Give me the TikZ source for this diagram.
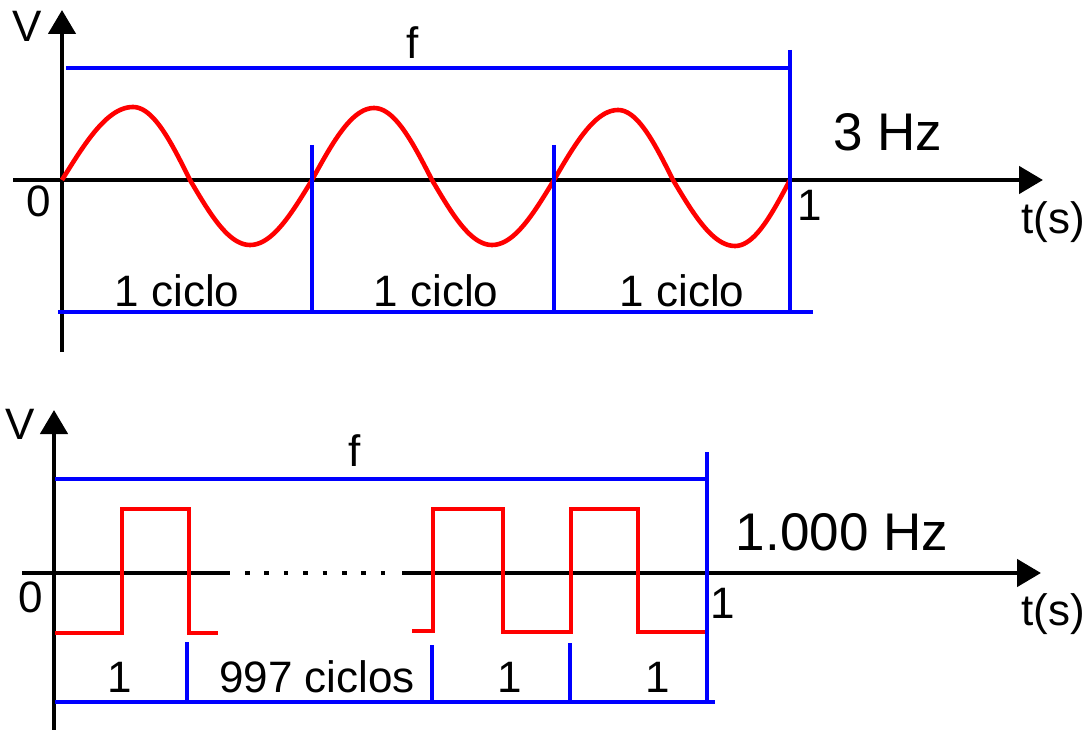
\documentclass[tikz,border=0pt]{standalone}
\usepackage{fontspec}
\setmainfont{Liberation Sans}
\usetikzlibrary{arrows.meta}
\begin{document}
\begin{tikzpicture}[x=1pt,y=-1pt,
  ax/.style={line width=4.6pt, black},
  axarrow/.style={ax, -{Triangle[length=24pt,width=27pt]}},
  bl/.style={line width=4.6pt, blue},
  wave/.style={line width=4.6pt, red, line join=round},
  lbl/.style={font=\fontsize{44}{48}\selectfont, inner sep=0pt},
  big/.style={font=\fontsize{53}{58}\selectfont, inner sep=0pt}]
\useasboundingbox (0,0) rectangle (1087,730);
% ================= top panel =================
\draw[axarrow] (62,352) -- (62,10);
\draw[axarrow] (13,180) -- (1043,180);
% sine wave (3 cycles), drawn quarter by quarter
\draw[wave]
     plot[domain=62:133, samples=25] (\x,{180-73*sin((\x-62)/71*90)})
  -- plot[domain=133:190, samples=25] (\x,{180-73*cos((\x-133)/57*90)})
  -- plot[domain=190:250, samples=25] (\x,{180+65*sin((\x-190)/60*90)})
  -- plot[domain=250:312, samples=25] (\x,{180+65*cos((\x-250)/62*90)})
  -- plot[domain=312:374, samples=25] (\x,{180-72*sin((\x-312)/62*90)})
  -- plot[domain=374:432, samples=25] (\x,{180-72*cos((\x-374)/58*90)})
  -- plot[domain=432:492, samples=25] (\x,{180+65*sin((\x-432)/60*90)})
  -- plot[domain=492:554, samples=25] (\x,{180+65*cos((\x-492)/62*90)})
  -- plot[domain=554:618, samples=25] (\x,{180-70*sin((\x-554)/64*90)})
  -- plot[domain=618:673, samples=25] (\x,{180-70*cos((\x-618)/55*90)})
  -- plot[domain=673:735, samples=25] (\x,{180+66*sin((\x-673)/62*90)})
  -- plot[domain=735:790, samples=25] (\x,{180+66*cos((\x-735)/55*90)});
% blue brackets
\draw[bl] (66,68) -- (792,68);
\draw[bl] (790,50) -- (790,314);
\draw[bl] (312,145) -- (312,312);
\draw[bl] (554,145) -- (554,312);
\draw[bl] (58,312) -- (813,312);
% labels
\node[lbl] (v1) at (27,26) {V};
\node[lbl] (z1) at (39,201) {0};
\node[lbl] (f1) at (413,43) {f};
\node[lbl] (o1) at (810,205) {1};
\node[lbl] (t1) at (1053,222) {t(s)};
\node[big] (hz1) at (888,132) {3 Hz};
\node[lbl] (c1) at (177,291) {1 ciclo};
\node[lbl] (c2) at (436,291) {1 ciclo};
\node[lbl] (c3) at (682,291) {1 ciclo};
% ================= bottom panel =================
\draw[axarrow] (54,730) -- (54,410);
\draw[ax] (22,573) -- (230,573);
\draw[ax, dash pattern=on 4.6pt off 14.8pt] (245,573) -- (388,573);
\draw[axarrow] (402,573) -- (1041,573);
% square wave
\draw[wave, line join=miter] (55,633) -- (122,633) -- (122,509) -- (189,509) -- (189,633) -- (218,633);
\draw[wave, line join=miter] (412,631) -- (433,631) -- (433,509) -- (503,509) -- (503,632)
  -- (571,632) -- (571,509) -- (638,509) -- (638,632) -- (707,632);
% blue brackets
\draw[bl] (55,479) -- (707,479);
\draw[bl] (707,452) -- (707,702);
\draw[bl] (187,642) -- (187,702);
\draw[bl] (432,645) -- (432,702);
\draw[bl] (570,643) -- (570,702);
\draw[bl] (55,702) -- (715,702);
% labels
\node[lbl] (v2) at (20,424) {V};
\node[lbl] (z2) at (31,597) {0};
\node[lbl] (f2) at (355,451) {f};
\node[lbl] (o2) at (723,603) {1};
\node[lbl] (t2) at (1053,614) {t(s)};
\node[big] (hz2) at (842,532) {1.000 Hz};
\node[lbl] (d1) at (120,677) {1};
\node[lbl] (d2) at (317,677) {997 ciclos};
\node[lbl] (d3) at (510,677) {1};
\node[lbl] (d4) at (658,677) {1};
\end{tikzpicture}
\end{document}
